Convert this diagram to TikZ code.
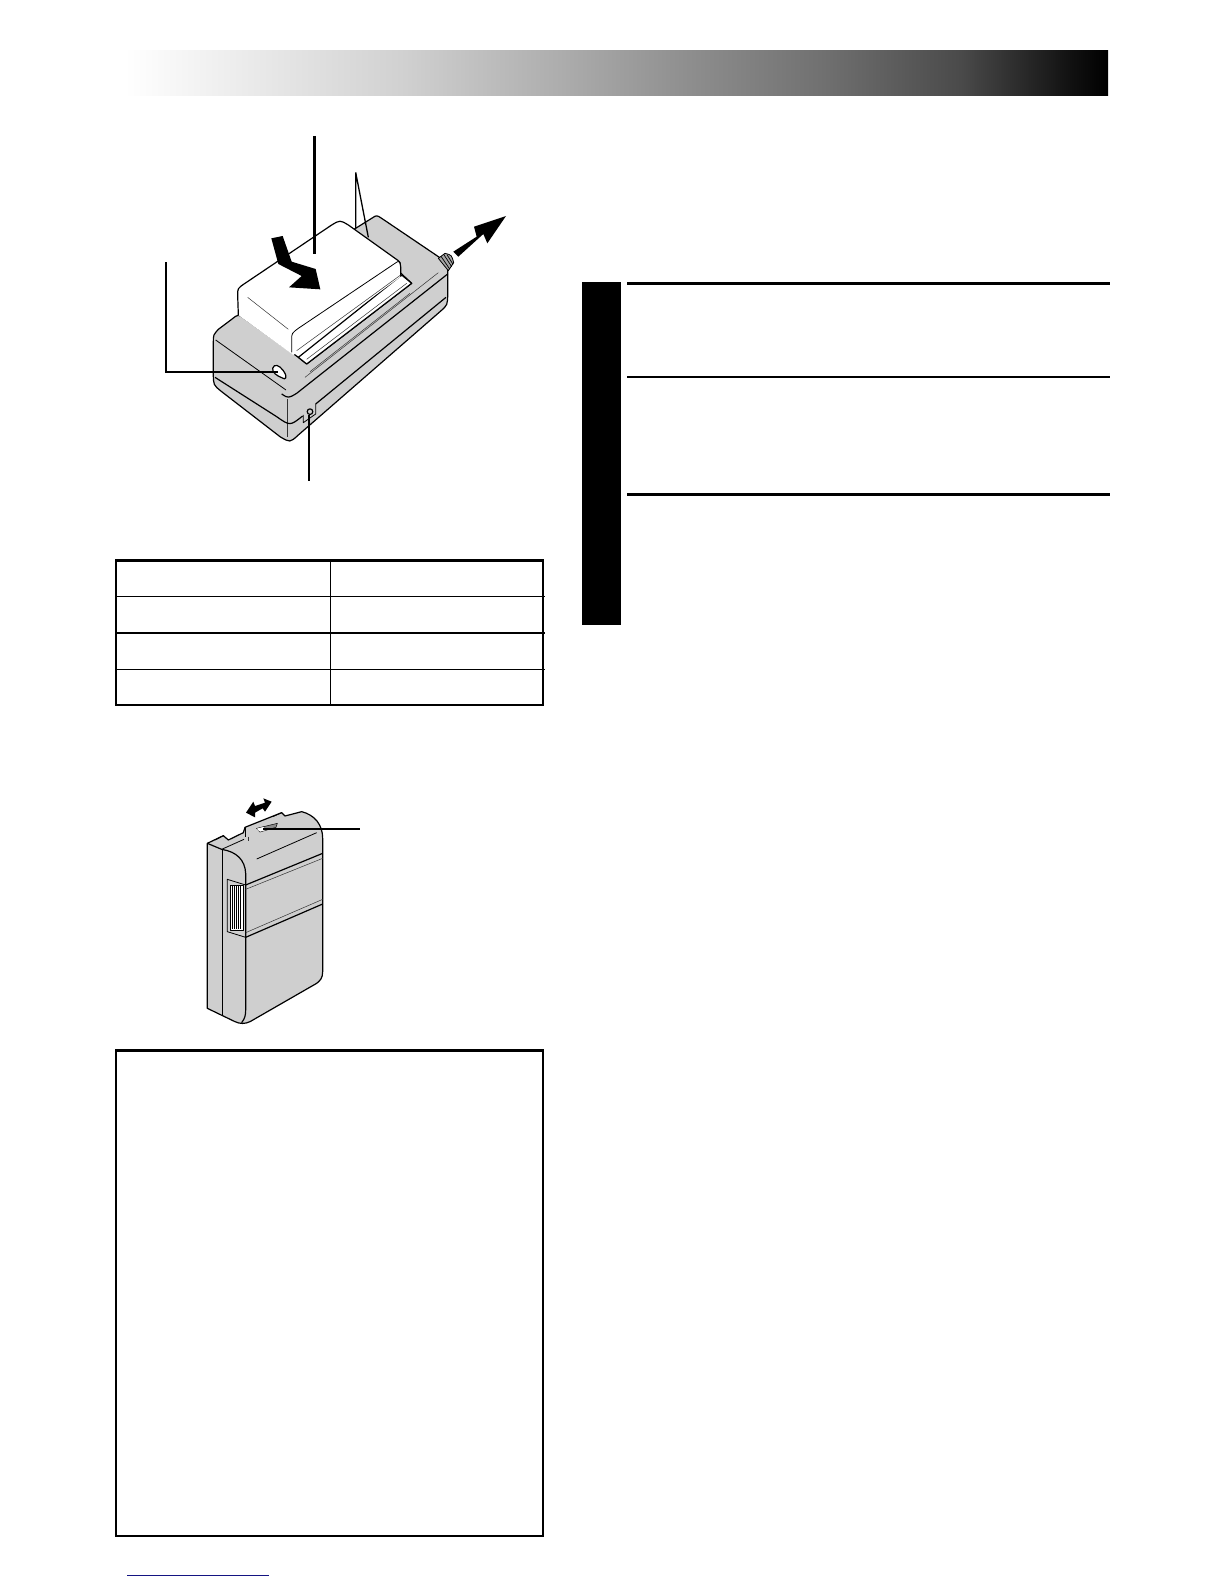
\documentclass[tikz,border=0pt]{standalone}
\pgfdeclarehorizontalshading{barfade}{100bp}{color(0bp)=(white); color(25bp)=(white); color(32bp)=(black!9); color(39bp)=(black!18); color(47bp)=(black!32); color(53.5bp)=(black!44); color(60.5bp)=(black!56); color(67.5bp)=(black!71); color(73bp)=(black!93); color(75bp)=(black); color(100bp)=(black)}
\tikzset{
  page/.style={x=1pt,y=-1pt},
  zoomed/.style={x=0.33333pt,y=-0.33333pt},
  outline/.style={draw=black,line width=1.2pt,line join=round},
  finer/.style={draw=black,line width=0.8pt,line join=round},
  thin line/.style={draw=black!80,line width=0.5pt},
  leader/.style={draw=black,line width=1.7pt},
  body/.style={fill=black!19},
  frame/.style={draw=black,line width=2.6pt}
}
\begin{document}
\begin{tikzpicture}[page]
\useasboundingbox (0,0) rectangle (1224,1584);
\fill[white] (0,0) rectangle (1224,1584);
% header bar
\shade[shading=barfade] (125,50.5) rectangle (1108,96);
% right column
\fill[black] (582,282) rectangle (621,625);
\fill[black] (627,282) rectangle (1110,285);
\fill[black] (627,376) rectangle (1110,378.3);
\fill[black] (627,493) rectangle (1110,496);
% table
\draw[frame] (115.9,560.5) rectangle (543,705);
\draw[line width=1pt] (330.3,560.5) -- (330.3,705);
\draw[line width=1pt] (115.9,596.3) -- (545,596.3);
\draw[line width=1.7pt] (115.9,632.7) -- (545,632.7);
\draw[line width=1pt] (115.9,669.3) -- (545,669.3);
% large box
\draw[frame] (115.9,1050.3) rectangle (543,1536);
% blue rule
\draw[draw={rgb,255:red,20;green,20;blue,130},line width=1pt] (127,1575.7) -- (269,1575.7);
% charger
\begin{scope}[shift={(150,120)},zoomed]
  \path[outline,body] (612,328) -- (665,295) .. controls (680,285) .. (695,295) -- (880,420) .. controls (893,430) .. (893,445) -- (893,520) .. controls (893,555) .. (870,575) -- (445,945) .. controls (420,968) .. (390,950) -- (215,815) .. controls (190,795) .. (190,760) -- (190,665) .. controls (190,645) .. (205,628) -- (245,598) .. controls (265,582) .. (285,597) -- (445,712) -- (470,732) -- (785,490) -- cycle;
  \path[fill=white,outline] (445,712) -- (470,732) -- (785,490) -- (755,465) -- cycle;
  \draw[thin line] (470,718) -- (770,490);
  % battery
  \path[fill=white] (265,585) -- (263,525) .. controls (263,505) .. (285,490) -- (545,315) .. controls (570,300) .. (595,315) -- (735,415) .. controls (750,425) .. (752,440) -- (752,470) -- (430,705) -- cycle;
  \draw[outline] (265,585) -- (263,525) .. controls (263,505) .. (285,490) -- (545,315) .. controls (570,300) .. (595,315) -- (735,415) .. controls (750,425) .. (752,440) -- (752,470);
  \draw[finer] (425,697) -- (425,660) .. controls (425,640) .. (445,625) -- (735,430) .. controls (745,423) .. (752,430);
  \draw[thin line] (293,532) -- (415,628);
  \draw[thin line] (440,692) -- (752,465);
  % surface edges
  \draw[outline] (395,822) .. controls (415,835) .. (440,820) -- (893,462);
  \draw[finer] (197,660) -- (408,810);
  \draw[thin line] (465,772) -- (865,458);
  \draw[thin line] (480,755) -- (780,520);
  \draw[thin line,line width=0.7pt] (413,838) -- (413,950);
  \draw[outline] (195,772) -- (380,890) .. controls (420,918) .. (458,888);
  \draw[outline] (497,852) -- (888,532);
  \draw[finer] (460,885) -- (460,908) -- (497,882) -- (497,852);
  \draw[outline] (480,875) circle [radius=2.8pt];
  \path[outline,fill=white] (368,745) .. controls (372,730) and (388,735) .. (400,752) .. controls (414,772) and (408,782) .. (395,773) .. controls (382,768) and (366,758) .. (368,745) -- cycle;
  % connector thread
  \path[fill=black!35,outline,line width=0.8pt] (865,415) -- (885,400) .. controls (905,405) .. (911,428) -- (895,452) -- cycle;
  \draw[black,line width=0.7pt] (873,409) -- (899,447) (881,403) -- (905,440) (891,404) -- (909,433);
  % callout leaders
  \draw[draw=black,line width=2.4pt] (493,48) -- (493,403);
  \draw[draw=black,line width=1.3pt] (617,157) -- (617,325) (617,157) -- (655,352);
  \draw[leader] (47,427) -- (47,755) -- (385,755);
  \draw[leader] (478,885) -- (478,1083);
  % arrows
  \fill[black] (910,395) -- (980,350) -- (972,320) -- (1068,288) -- (1012,370) -- (1000,342) -- (925,410) -- cycle;
  \fill[black] (364,355) -- (398,348) -- (425,425) -- (497,447) -- (511,508) -- (417,502) -- (455,468) -- (385,432) -- cycle;
\end{scope}
% battery pack
\begin{scope}[shift={(180,780)},zoomed]
  \path[outline,body] (82,190) -- (130,167) -- (145,180) -- (190,158) -- (195,142) -- (305,98) -- (315,108) -- (365,95) .. controls (405,105) and (428,135) .. (428,175) -- (428,575) .. controls (428,595) and (420,602) .. (410,610) -- (210,725) .. controls (195,732) and (180,732) .. (165,725) -- (82,685) -- cycle;
  \draw[outline] (82,190) -- (125,208) .. controls (170,215) and (195,240) .. (197,280) -- (197,690) .. controls (197,705) and (195,715) .. (185,728);
  \draw[outline] (128,207) -- (128,708);
  \draw[finer] (125,208) -- (192,178);
  \draw[finer] (105,180) -- (130,167);
  \draw[finer] (195,142) -- (195,170);
  \draw[finer] (278,110) -- (305,98);
  % side window
  \draw[finer] (197,315) -- (142,298) -- (142,455) -- (197,472);
  \fill[white] (150,315) rectangle (190,450);
  \draw[finer] (150,315) rectangle (190,450);
  \foreach \hx in {157,163,169,175,182}{\draw[black,line width=0.9pt] (\hx,317) -- (\hx,448);}
  % bands
  \draw[outline] (197,315) -- (428,220);
  \draw[thin line] (197,328) -- (428,235);
  \draw[thin line] (197,458) -- (428,358);
  \draw[outline] (197,472) -- (428,372);
  \draw[finer] (230,237) -- (410,158);
  \draw[thin line] (205,170) -- (205,182);
  % latch
  \path[fill=black!45,draw=black,line width=0.5pt] (230,145) -- (292,130) -- (288,142) -- (240,156) -- cycle;
  \path[fill=white] (230,146) -- (250,141) -- (258,150) -- (240,155) -- cycle;
  \draw[leader] (250,147) -- (540,147);
  % double arrow
  \fill[black] (198,98) -- (220,65) -- (225,78) -- (255,68) -- (250,55) -- (275,65) -- (255,95) -- (248,85) -- (225,98) -- (225,112) -- cycle;
\end{scope}
\end{tikzpicture}
\end{document}
